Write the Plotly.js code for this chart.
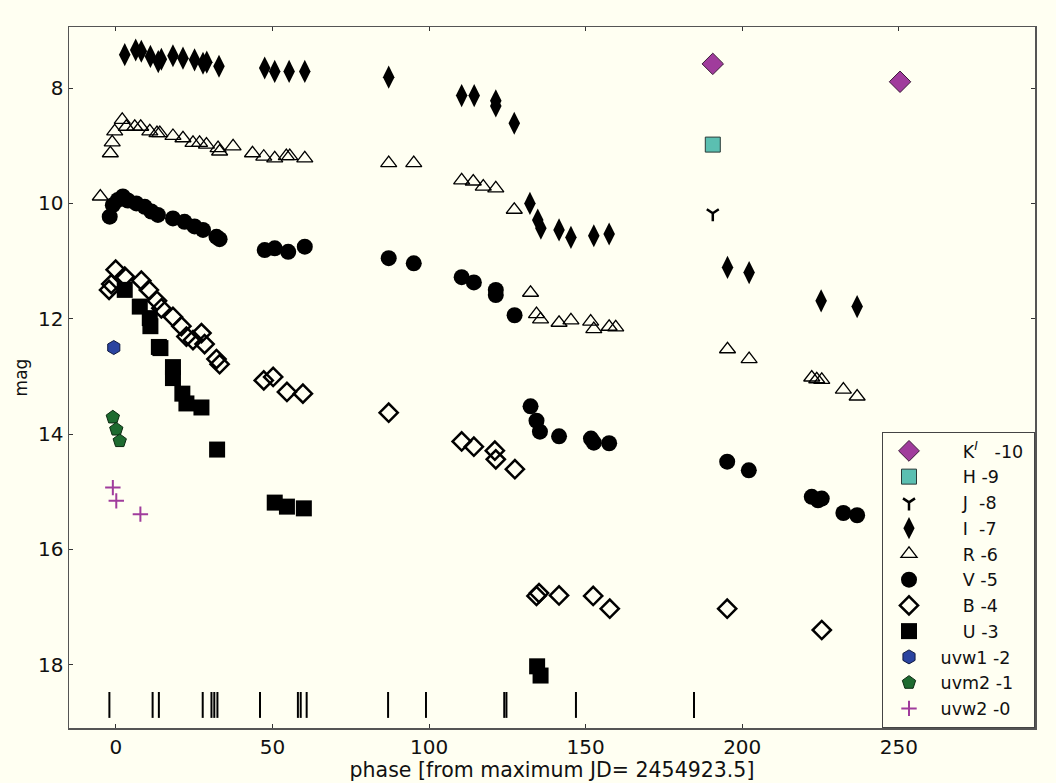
<!DOCTYPE html>
<html>
<head>
<meta charset="utf-8">
<script src="https://cdn.plot.ly/plotly-3.0.1.min.js"></script>
<style>
  html, body { margin: 0; padding: 0; background: #fffff2; }
  #chart { width: 1056px; height: 783px; }
</style>
</head>
<body>
<div id="chart"></div>
<script>
// Light curve of the supernova, magnitudes offset per band (phase in days from maximum)

// K' band (offset -10)
const kPhase = [190.6, 250.4];
const kMag   = [7.58, 7.89];

// H band (offset -9)
const hPhase = [190.6];
const hMag   = [8.98];

// J band (offset -8)
const jPhase = [190.6];
const jMag   = [10.17];

// I band (offset -7)
const iPhase = [2.8, 6.3, 8.1, 11.0, 13.5, 14.5, 18.2, 21.4, 25.1, 27.8, 29.0, 32.9,
                47.5, 50.7, 55.3, 60.3, 87.1, 110.4, 114.4, 121.3, 121.3, 127.2,
                132.2, 134.7, 135.7, 141.5, 145.3, 152.6, 157.5,
                195.3, 202.2, 225.2, 236.7];
const iMag   = [7.42, 7.34, 7.36, 7.45, 7.54, 7.50, 7.44, 7.48, 7.51, 7.57, 7.55, 7.62,
                7.65, 7.71, 7.71, 7.71, 7.81, 8.13, 8.13, 8.22, 8.31, 8.61,
                10.00, 10.29, 10.43, 10.46, 10.59, 10.56, 10.53,
                11.11, 11.20, 11.69, 11.79];

// R band (offset -6)
const rPhase = [-5.0, -1.8, -1.2, -0.4, 2.0, 3.3, 6.0, 7.9, 10.8, 13.1, 14.0, 18.2, 21.4,
                24.6, 26.7, 28.9, 32.6, 33.1, 37.4, 43.6, 47.2, 50.7, 54.4, 55.5, 60.3,
                87.1, 95.1, 110.4, 114.1, 117.3, 121.3, 127.2,
                132.4, 134.3, 135.6, 141.5, 145.3, 151.6, 152.6, 157.5, 159.6,
                195.3, 202.2, 222.2, 223.8, 225.4, 232.3, 236.7];
const rMag   = [9.88, 9.13, 8.94, 8.75, 8.55, 8.67, 8.67, 8.67, 8.75, 8.78, 8.78, 8.83, 8.87,
                8.95, 8.95, 8.98, 9.04, 9.10, 9.01, 9.13, 9.19, 9.22, 9.18, 9.18, 9.22,
                9.30, 9.30, 9.60, 9.62, 9.71, 9.74, 10.11,
                11.55, 11.92, 12.01, 12.07, 12.03, 12.05, 12.18, 12.14, 12.15,
                12.53, 12.70, 13.02, 13.05, 13.06, 13.23, 13.35];

// V band (offset -5)
const vPhase = [-2.0, -1.0, 0.6, 2.2, 3.8, 6.5, 9.2, 11.3, 13.4, 18.2, 21.9, 25.1, 27.8,
                32.1, 33.1, 47.5, 50.7, 55.0, 60.3, 87.1, 95.1,
                110.4, 114.3, 121.3, 121.3, 127.3,
                132.4, 134.3, 135.4, 141.5, 151.7, 152.6, 157.5,
                195.2, 202.1, 222.2, 224.2, 225.4, 232.3, 236.7];
const vMag   = [10.23, 10.03, 9.94, 9.88, 9.95, 10.00, 10.06, 10.14, 10.20, 10.26, 10.32, 10.40, 10.46,
                10.58, 10.62, 10.81, 10.78, 10.84, 10.75, 10.95, 11.04,
                11.28, 11.37, 11.50, 11.59, 11.94,
                13.52, 13.77, 13.96, 14.04, 14.08, 14.15, 14.16,
                14.48, 14.63, 15.09, 15.15, 15.12, 15.37, 15.41];

// B band (offset -4)
const bPhase = [-2.2, -1.5, -0.1, 2.8, 8.1, 10.5, 13.1, 14.5, 18.2, 20.9, 22.5, 24.6, 27.3,
                28.3, 32.1, 33.1, 47.2, 50.2, 54.6, 59.7, 87.1,
                110.4, 114.3, 121.0, 121.3, 127.4,
                134.3, 135.1, 141.5, 152.4, 157.7, 195.2, 225.4];
const bMag   = [11.50, 11.40, 11.15, 11.27, 11.34, 11.50, 11.69, 11.82, 11.97, 12.13, 12.31, 12.37, 12.25,
                12.44, 12.70, 12.79, 13.07, 13.01, 13.27, 13.30, 13.63,
                14.13, 14.22, 14.29, 14.44, 14.61,
                16.81, 16.76, 16.80, 16.81, 17.03, 17.03, 17.40];

// U band (offset -3)
const uPhase = [2.8, 7.6, 10.8, 11.0, 13.7, 14.2, 18.2, 18.2, 21.2, 22.5, 27.3, 32.3,
                50.7, 54.6, 60.0, 134.5, 135.6];
const uMag   = [11.50, 11.79, 11.99, 12.13, 12.49, 12.51, 12.84, 13.03, 13.30, 13.47, 13.54, 14.27,
                15.19, 15.26, 15.29, 18.03, 18.19];

// Swift UV bands
const uvw1Phase = [-0.7];
const uvw1Mag   = [12.50];
const uvm2Phase = [-1.0, 0.1, 1.2];
const uvm2Mag   = [13.71, 13.92, 14.12];
const uvw2Phase = [-1.0, 0.1, 7.8];
const uvw2Mag   = [14.93, 15.16, 15.39];

// Epochs of the spectra, marked along the bottom of the panel
const spectraPhase = [-2.1, 11.7, 13.7, 27.7, 30.5, 31.4, 32.4, 46.0, 58.1, 59.0, 60.9,
                      86.9, 99.0, 124.0, 124.7, 146.9, 184.6];
const spectraRow = 18.7;

const bg = '#fffff2';
const purple = '#a03c9c';

function band(name, x, y, marker) {
  return { type: 'scatter', mode: 'markers', name: name, x: x, y: y,
           marker: marker, hoverinfo: 'x+y' };
}

// non-breaking spaces keep the single-letter band names indented in the legend
const nb = '\u00a0';
const pad = nb + nb + nb + nb + nb;
const traces = [
  band(pad + 'K<sup><i>I</i></sup>' + nb + nb + nb + '-10' + nb, kPhase, kMag,
       { symbol: 'diamond', size: 16.5, color: purple, line: { color: '#3a1a38', width: 1 } }),
  band(pad + 'H -9', hPhase, hMag,
       { symbol: 'square', size: 15, color: '#5bbfb1', line: { color: '#2a3a38', width: 1 } }),
  band(pad + 'J' + nb + nb + '-8', jPhase, jMag,
       { symbol: 'y-down', size: 10, color: '#000', line: { color: '#000', width: 2.5 } }),
  band(pad + 'I' + nb + nb + '-7', iPhase, iMag,
       { symbol: 'diamond-tall', size: 16.5, color: '#000', line: { color: '#000', width: 0 } }),
  band(pad + 'R -6', rPhase, rMag,
       { symbol: 'triangle-up-open', size: 14, color: '#000', line: { color: '#000', width: 1.3 } }),
  band(pad + 'V -5', vPhase, vMag,
       { symbol: 'circle', size: 16, color: '#000', line: { color: '#000', width: 0 } }),
  band(pad + 'B -4', bPhase, bMag,
       { symbol: 'diamond-open', size: 14, color: '#000', line: { color: '#000', width: 2.5 } }),
  band(pad + 'U -3', uPhase, uMag,
       { symbol: 'square', size: 16, color: '#000', line: { color: '#000', width: 0 } }),
  band(nb + 'uvw1 -2', uvw1Phase, uvw1Mag,
       { symbol: 'hexagon', size: 14, color: '#2b44a0', line: { color: '#101a40', width: 1 } }),
  band(nb + 'uvm2 -1', uvm2Phase, uvm2Mag,
       { symbol: 'pentagon', size: 14, color: '#1e6b30', line: { color: '#0c2a12', width: 1 } }),
  band(nb + 'uvw2 -0', uvw2Phase, uvw2Mag,
       { symbol: 'cross-thin', size: 11, color: purple, line: { color: purple, width: 2 } }),
  { type: 'scatter', mode: 'markers', x: spectraPhase,
    y: spectraPhase.map(() => spectraRow), showlegend: false, hoverinfo: 'x',
    marker: { symbol: 'line-ns', size: 18.5, color: '#000', line: { color: '#000', width: 2 } } }
];

const axisCommon = {
  showgrid: false, zeroline: false, showline: true, mirror: 'allticks',
  linecolor: '#555', linewidth: 1.5,
  ticks: 'inside', ticklen: 4, tickwidth: 1, tickcolor: '#333',
  tickfont: { family: 'DejaVu Sans', size: 20, color: '#111' }
};

const layout = {
  width: 1056, height: 783,
  paper_bgcolor: bg, plot_bgcolor: bg,
  margin: { l: 69, r: 21, t: 27, b: 55 },
  showlegend: true,
  xaxis: Object.assign({}, axisCommon, {
    range: [-15, 293.5], tick0: 0, dtick: 50,
    title: { text: 'phase [from maximum JD= 2454923.5]', standoff: 0,
             font: { family: 'DejaVu Sans', size: 20.5, color: '#111' } }
  }),
  yaxis: Object.assign({}, axisCommon, {
    range: [19.1, 6.94], tick0: 8, dtick: 2,
    title: { text: 'mag', standoff: 6,
             font: { family: 'DejaVu Sans', size: 17, color: '#111' } }
  }),
  legend: {
    x: 1, xanchor: 'right', y: 0, yanchor: 'bottom',
    bgcolor: bg, bordercolor: '#444', borderwidth: 1,
    font: { family: 'DejaVu Sans', size: 17.5, color: '#111' },
    itemwidth: 42, tracegroupgap: 0
  }
};

Plotly.newPlot('chart', traces, layout, { displayModeBar: false, staticPlot: true });
</script>
</body>
</html>
